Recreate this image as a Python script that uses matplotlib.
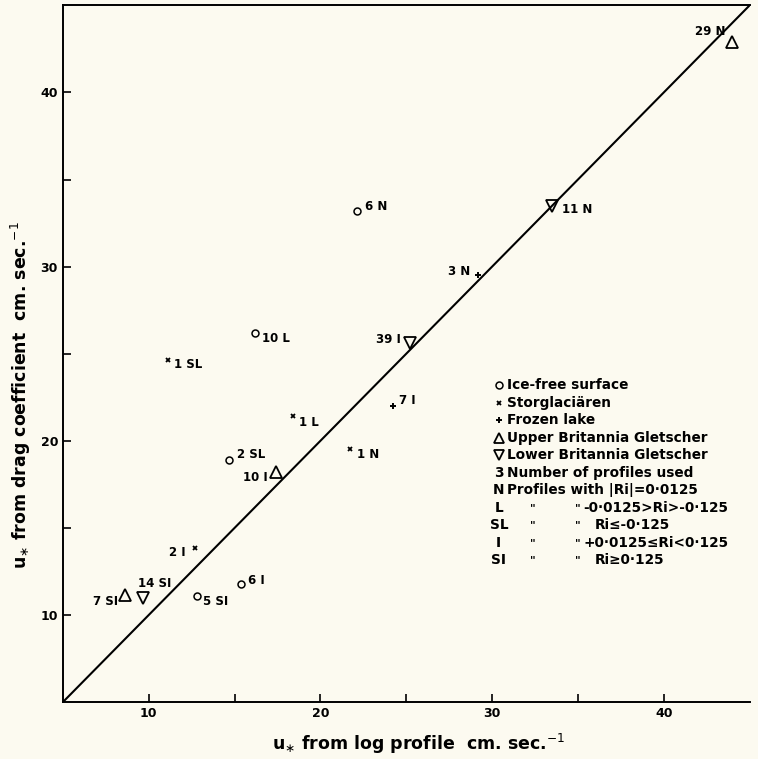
import matplotlib
matplotlib.use('Agg')
import matplotlib.pyplot as plt

# u* from log profile (x) and from drag coefficient (y), cm/sec
log_profile = [43.95, 33.5, 22.15, 29.2, 25.2, 16.2, 11.1, 24.2, 18.4, 21.7,
               14.65, 17.4, 12.7, 9.65, 8.6, 12.8, 15.4]
drag_coeff = [42.9, 33.5, 33.2, 29.5, 25.6, 26.2, 24.65, 22.0, 21.4, 19.5,
              18.9, 18.2, 13.85, 11.0, 11.15, 11.1, 11.8]
surface = ['upper', 'lower', 'icefree', 'lake', 'lower', 'icefree', 'storg', 'lake', 'storg', 'storg',
           'icefree', 'upper', 'storg', 'lower', 'upper', 'icefree', 'icefree']
n_profiles = [29, 11, 6, 3, 39, 10, 1, 7, 1, 1, 2, 10, 2, 14, 7, 5, 6]
ri_class = ['N', 'N', 'N', 'N', 'I', 'L', 'SL', 'I', 'L', 'N', 'SL', 'I', 'I', 'SI', 'SI', 'SI', 'I']

legend_symbols = ['Ice-free surface', 'Storglaciären', 'Frozen lake',
                  'Upper Britannia Gletscher', 'Lower Britannia Gletscher']
legend_codes = ['3', 'N', 'L', 'SL', 'I', 'SI']
legend_code_text = ['Number of profiles used', 'Profiles with |Ri|=0·0125',
                    '-0·0125>Ri>-0·125', 'Ri≤-0·125', '+0·0125≤Ri<0·125', 'Ri≥0·125']

# label placement: pixel offset from the marker and horizontal alignment
label_offsets = [(-6, 10, 'right'), (10, -4, 'left'), (8, 4, 'left'), (-8, 4, 'right'),
                 (-9, 4, 'right'), (7, -6, 'left'), (6, -5, 'left'), (6, 5, 'left'),
                 (6, -6, 'left'), (7, -5, 'left'), (8, 5, 'left'), (-8, -5, 'right'),
                 (-9, -5, 'right'), (-5, 14, 'left'), (-7, -7, 'right'), (6, -6, 'left'),
                 (7, 3, 'left')]

marker_style = {
    'icefree': dict(marker='o', ms=5, mfc='none', mec='black', mew=1.1),
    'storg': dict(marker='x', ms=3.5, mec='black', mew=1.3),
    'lake': dict(marker='+', ms=5, mec='black', mew=1.4),
    'upper': dict(marker='^', ms=8, mfc='none', mec='black', mew=1.3),
    'lower': dict(marker='v', ms=8, mfc='none', mec='black', mew=1.3),
}

bg = '#fcfaf0'
plt.rcParams['font.family'] = ['DejaVu Sans']
plt.rcParams['mathtext.fontset'] = 'dejavusans'

fig = plt.figure(figsize=(7.58, 7.59), dpi=100, facecolor=bg)
ax = fig.add_axes([0.083, 0.075, 0.906, 0.918], facecolor=bg)

ax.plot([5, 45], [5, 45], color='black', lw=1.5)

for x, y, s, n, c, (dx, dy, ha) in zip(log_profile, drag_coeff, surface, n_profiles, ri_class, label_offsets):
    ax.plot([x], [y], linestyle='none', **marker_style[s])
    ax.annotate(f'{n} {c}', (x, y), xytext=(dx, dy), textcoords='offset pixels',
                ha=ha, va='center', fontsize=8.5, fontweight='bold')

# legend block
def row_y(i):
    return (702 - (385 + i * 17.5)) / 697

lfs = 9.8
sym_x = (499 - 63) / 687
txt_x = (507 - 63) / 687
for i, (key, text) in enumerate(zip(['icefree', 'storg', 'lake', 'upper', 'lower'], legend_symbols)):
    st = dict(marker_style[key])
    if key in ('upper', 'lower'):
        st['ms'] = 7
    ax.plot([sym_x], [row_y(i)], transform=ax.transAxes, linestyle='none', clip_on=False, **st)
    ax.text(txt_x, row_y(i), text, transform=ax.transAxes, ha='left', va='center',
            fontsize=lfs, fontweight='bold')

ditto1 = (533 - 63) / 687
ditto2 = (578 - 63) / 687
for j, (code, text) in enumerate(zip(legend_codes, legend_code_text)):
    i = j + 5
    ax.text(sym_x, row_y(i), code, transform=ax.transAxes, ha='center', va='center',
            fontsize=lfs, fontweight='bold')
    if j < 2:
        ax.text(txt_x, row_y(i), text, transform=ax.transAxes, ha='left', va='center',
                fontsize=lfs, fontweight='bold')
    else:
        ax.text(ditto1, row_y(i), '"', transform=ax.transAxes, ha='center', va='center',
                fontsize=8, fontweight='bold')
        ax.text(ditto2, row_y(i), '"', transform=ax.transAxes, ha='center', va='center',
                fontsize=8, fontweight='bold')
        start = (584 - 63) / 687 if text[0] in '-+' else (595 - 63) / 687
        ax.text(start, row_y(i), text, transform=ax.transAxes, ha='left', va='center',
                fontsize=lfs, fontweight='bold')

ax.set_xlim(5, 45)
ax.set_ylim(5, 45)
ax.set_xticks([10, 20, 30, 40])
ax.set_yticks([10, 20, 30, 40])
ax.set_xticks([15, 25, 35], minor=True)
ax.set_yticks([15, 25, 35], minor=True)
ax.tick_params(which='both', direction='in', length=6, width=1.2, labelsize=9)
for lab in ax.get_xticklabels() + ax.get_yticklabels():
    lab.set_fontweight('bold')
ax.spines['right'].set_visible(False)
for side in ('left', 'bottom', 'top'):
    ax.spines[side].set_linewidth(1.4)

ax.set_xlabel(r'u$_{\ast}$ from log profile  cm. sec.$^{-1}$', fontsize=12.5, fontweight='bold')
ax.set_ylabel(r'u$_{\ast}$ from drag coefficient  cm. sec.$^{-1}$', fontsize=12.5, fontweight='bold')
ax.xaxis.set_label_coords(0.518, -0.043)
ax.yaxis.set_label_coords(-0.043, 0.44)

fig.savefig('out.png', dpi=100, facecolor=bg)
